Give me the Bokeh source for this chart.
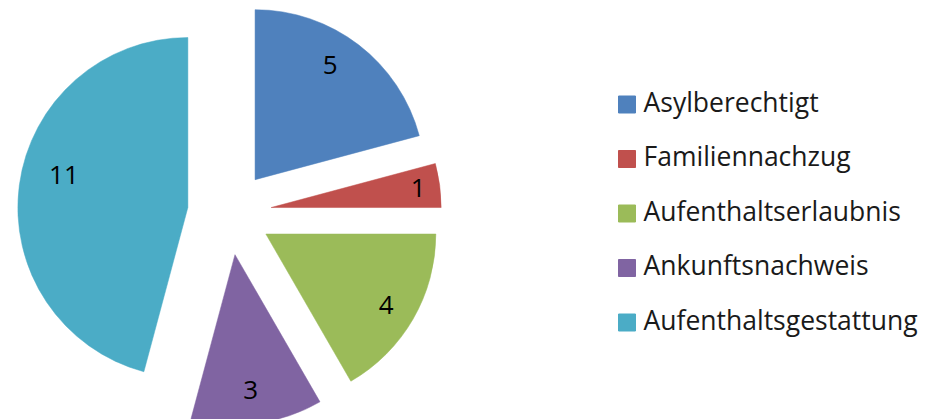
import math
from bokeh.plotting import figure
from bokeh.models import Range1d, ColumnDataSource
from bokeh.core.properties import value
from bokeh.embed import file_html
from bokeh.resources import INLINE

# ---- data ----
categories = ["Asylberechtigt", "Familiennachzug", "Aufenthaltserlaubnis",
              "Ankunftsnachweis", "Aufenthaltsgestattung"]
counts = [5, 1, 4, 3, 11]
colors = ["#4F81BD", "#C0504D", "#9BBB59", "#8064A2", "#4BACC6"]

# ---- layout ----
W, H = 934, 419
cx, cy = 229.0, H - 212.5     # pie centre (data units = pixels, y up)
R = 170.0                      # radius
EXPLODE = 42.0                 # explosion distance
LABEL_F = [0.79, 0.87, 0.83, 0.82, 0.75]      # label radius fractions
LABEL_DA = [-3.5, 1.0, 1.5, 1.0, 6.0]         # label angle tweak (deg)
TEXT_DY = 3.0                  # optical vertical correction for text
FONT = "Open Sans"

total = float(sum(counts))
theta_s, theta_e, theta_m = [], [], []
acc = 0.0
for c in counts:
    s = acc / total * 2 * math.pi
    acc += c
    e = acc / total * 2 * math.pi
    theta_s.append(s)
    theta_e.append(e)
    theta_m.append((s + e) / 2)

ax = [cx + EXPLODE * math.sin(t) for t in theta_m]
ay = [cy + EXPLODE * math.cos(t) for t in theta_m]
start = [math.pi / 2 - t for t in theta_s]
end = [math.pi / 2 - t for t in theta_e]
lt = [t + math.radians(d) for t, d in zip(theta_m, LABEL_DA)]
lx = [x + f * R * math.sin(t) for x, f, t in zip(ax, LABEL_F, lt)]
ly = [y + f * R * math.cos(t) + TEXT_DY for y, f, t in zip(ay, LABEL_F, lt)]

src = ColumnDataSource(dict(x=ax, y=ay, start=start, end=end, color=colors,
                            lx=lx, ly=ly, txt=[str(c) for c in counts],
                            cat=categories))

p = figure(width=W, height=H, output_backend="svg", toolbar_location=None,
           x_range=Range1d(0, W), y_range=Range1d(0, H),
           x_axis_type=None, y_axis_type=None, min_border=0)
p.outline_line_color = None
p.xgrid.visible = False
p.ygrid.visible = False
p.background_fill_color = "white"
p.border_fill_color = "white"

p.wedge(x="x", y="y", radius=R, start_angle="start", end_angle="end",
        direction="clock", fill_color="color", line_color="color",
        line_width=0.5, source=src)

p.text(x="lx", y="ly", text="txt", text_align="center", text_baseline="middle",
       text_font=value(FONT), text_font_size="26px", text_color="black",
       source=src)

# ---- legend (manual) ----
LEG_X_BOX, LEG_BOX = 626.5, 17
LEG_X_TEXT = 643
LEG_Y0, LEG_DY = 104.0, 54.5
n = len(categories)
leg_y = [H - (LEG_Y0 + i * LEG_DY) for i in range(n)]
lsrc = ColumnDataSource(dict(x=[LEG_X_BOX] * n, tx=[LEG_X_TEXT] * n, y=leg_y,
                             ty=[v + TEXT_DY for v in leg_y],
                             cat=categories, color=colors))
p.rect(x="x", y="y", width=LEG_BOX, height=LEG_BOX, fill_color="color",
       line_color="color", source=lsrc)
p.text(x="tx", y="ty", text="cat", text_align="left", text_baseline="middle",
       text_font=value(FONT), text_font_size="26.5px", text_color="#1a1a1a",
       source=lsrc)

open("out.html", "w").write(file_html(p, INLINE))
